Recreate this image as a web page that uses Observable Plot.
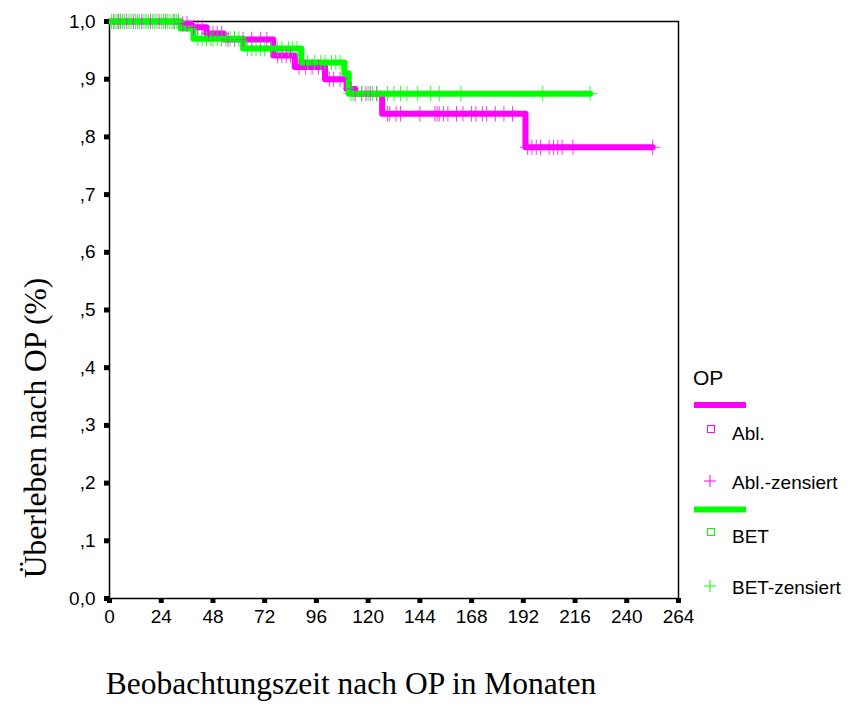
<!DOCTYPE html>
<html>
<head>
<meta charset="utf-8">
<script src="https://cdn.jsdelivr.net/npm/d3@7"></script>
<script src="https://cdn.jsdelivr.net/npm/@observablehq/plot@0.6"></script>
<style>
  html, body { margin: 0; padding: 0; background: #fff; }
  #chart svg { display: block; }
</style>
</head>
<body>
<div id="chart"></div>
<script>
// ---- Data ----
const groups = ["Abl.", "BET"];
const groupColors = ["#ff00ff", "#00ff00"];

// Kaplan–Meier step points (time in months, survival after the step)
const ablStepTimes = [0, 33, 38, 45, 53, 76, 86, 100, 110, 114, 126.5, 193, 252];
const ablStepSurv  = [1, 0.996, 0.99, 0.979, 0.969, 0.941, 0.921, 0.90, 0.883, 0.875, 0.84, 0.782, 0.782];
const betStepTimes = [0, 33, 39, 62, 89, 109, 111, 223];
const betStepSurv  = [1, 0.988, 0.97, 0.953, 0.929, 0.91, 0.875, 0.875];

// censored observations (months)
const ablCensor = [2, 4, 5, 8, 11, 15, 19, 23, 26, 30, 32, 34, 36, 39, 41, 43, 46, 48, 50, 52,
  55, 58, 62, 66, 70, 73, 78, 80, 82, 84, 88, 91, 94, 97, 102, 104, 107, 112,
  114, 117, 119, 121, 124, 129, 130, 133, 135, 144, 151, 152, 153, 155, 157, 161,
  164, 168, 170, 173, 175, 179, 183, 187, 194, 196, 198, 200, 204, 206, 208, 210, 215, 252];
const betCensor = [1, 2, 3, 4, 5, 6, 7, 9, 10, 12, 13, 14, 16, 17, 18, 20, 21, 22, 24, 25, 26,
  27, 28, 29, 30, 31, 32, 41, 43, 45, 47, 48, 50, 52, 54, 56, 58, 60, 64, 66, 68,
  70, 72, 75, 78, 80, 83, 85, 87, 92, 95, 98, 100, 103, 105, 107, 112, 113, 117,
  120, 122, 124, 129, 132, 135, 138, 143, 149, 153, 163, 201, 223];

const xTicks = [0, 24, 48, 72, 96, 120, 144, 168, 192, 216, 240, 264];
const yTicks = [0, 0.1, 0.2, 0.3, 0.4, 0.5, 0.6, 0.7, 0.8, 0.9, 1.0];
const yTickLabels = ["0,0", ",1", ",2", ",3", ",4", ",5", ",6", ",7", ",8", ",9", "1,0"];

const xTitle = "Beobachtungszeit nach OP in Monaten";
const yTitle = "Überleben nach OP (%)";
const legendTitle = "OP";
const legendLabels = ["Abl.", "Abl.-zensiert", "BET", "BET-zensiert"];

// ---- Build tables ----
function steps(times, surv, group) {
  return times.map((t, i) => ({t, s: surv[i], group}));
}
function survAt(times, surv, t) {
  let s = surv[0];
  for (let i = 0; i < times.length; i++) if (times[i] <= t) s = surv[i];
  return s;
}
const ablLine = steps(ablStepTimes, ablStepSurv, groups[0]);
const betLine = steps(betStepTimes, betStepSurv, groups[1]);
const ablCens = ablCensor.map(t => ({t, s: survAt(ablStepTimes, ablStepSurv, t)}));
const betCens = betCensor.map(t => ({t, s: survAt(betStepTimes, betStepSurv, t)}));

const sans = "'Liberation Sans', Arial, sans-serif";
const serif = "'Liberation Serif', 'Times New Roman', serif";

const chart = Plot.plot({
  width: 851,
  height: 715,
  marginLeft: 109,
  marginRight: 173,
  marginTop: 21,
  marginBottom: 117,
  style: {fontFamily: sans, background: "#fff", color: "#000"},
  x: {domain: [0, 264]},
  y: {domain: [0, 1]},
  marks: [
    Plot.frame({stroke: "#000", strokeWidth: 1.5}),
    Plot.line(ablLine, {x: "t", y: "s", curve: "step-after", stroke: groupColors[0], strokeWidth: 6}),
    Plot.line(betLine, {x: "t", y: "s", curve: "step-after", stroke: groupColors[1], strokeWidth: 6}),
    Plot.dot(ablCens, {x: "t", y: "s", symbol: "plus", r: 5, stroke: groupColors[0], strokeWidth: 1, strokeOpacity: 0.8}),
    Plot.dot(betCens, {x: "t", y: "s", symbol: "plus", r: 5, stroke: groupColors[1], strokeWidth: 1, strokeOpacity: 0.8}),
    Plot.axisX({ticks: xTicks, tickSize: 5, strokeWidth: 5, tickPadding: 6, fontSize: 19, label: null,
      tickFormat: d => String(d)}),
    Plot.axisY({ticks: yTicks, tickSize: 5, strokeWidth: 5, tickPadding: 9, fontSize: 19, label: null,
      tickFormat: d => yTickLabels[Math.round(d * 10)]}),
    Plot.text([xTitle], {text: d => d, frameAnchor: "bottom", textAnchor: "middle", dx: -43, dy: 95,
      fontFamily: serif, fontSize: 31.5, fill: "#000"}),
    Plot.text([yTitle], {text: d => d, frameAnchor: "left", textAnchor: "middle", lineAnchor: "middle",
      rotate: -90, dx: -74, dy: 118, fontFamily: serif, fontSize: 31.5, fill: "#000"})
  ]
});

document.getElementById("chart").appendChild(chart);

// ---- Legend (drawn with d3 into the same SVG) ----
const svg = d3.select(chart);
const lg = svg.append("g").attr("font-family", sans).attr("fill", "#000").attr("text-anchor", "start");
lg.append("text").attr("x", 693).attr("y", 385).attr("font-size", 21).text(legendTitle);
const rows = [
  {kind: "line", color: groupColors[0], y: 405},
  {kind: "square", color: groupColors[0], y: 429, label: legendLabels[0]},
  {kind: "plus", color: groupColors[0], y: 481, label: legendLabels[1]},
  {kind: "line", color: groupColors[1], y: 509.5},
  {kind: "square", color: groupColors[1], y: 532, label: legendLabels[2]},
  {kind: "plus", color: groupColors[1], y: 586, label: legendLabels[3]}
];
rows.forEach(r => {
  if (r.kind === "line") {
    lg.append("rect").attr("x", 694).attr("y", r.y - 3).attr("width", 52).attr("height", 6).attr("fill", r.color);
  } else if (r.kind === "square") {
    lg.append("rect").attr("x", 707.5).attr("y", r.y - 3.5).attr("width", 7).attr("height", 7)
      .attr("fill", "none").attr("stroke", r.color).attr("stroke-width", 1);
    lg.append("text").attr("x", 732).attr("y", r.y + 10.5).attr("font-size", 19).text(r.label);
  } else {
    lg.append("path").attr("d", `M${710 - 6},${r.y}H${710 + 6}M710,${r.y - 6}V${r.y + 6}`)
      .attr("stroke", r.color).attr("stroke-width", 1).attr("fill", "none");
    lg.append("text").attr("x", 732).attr("y", r.y + 8).attr("font-size", 19).text(r.label);
  }
});
</script>
</body>
</html>
